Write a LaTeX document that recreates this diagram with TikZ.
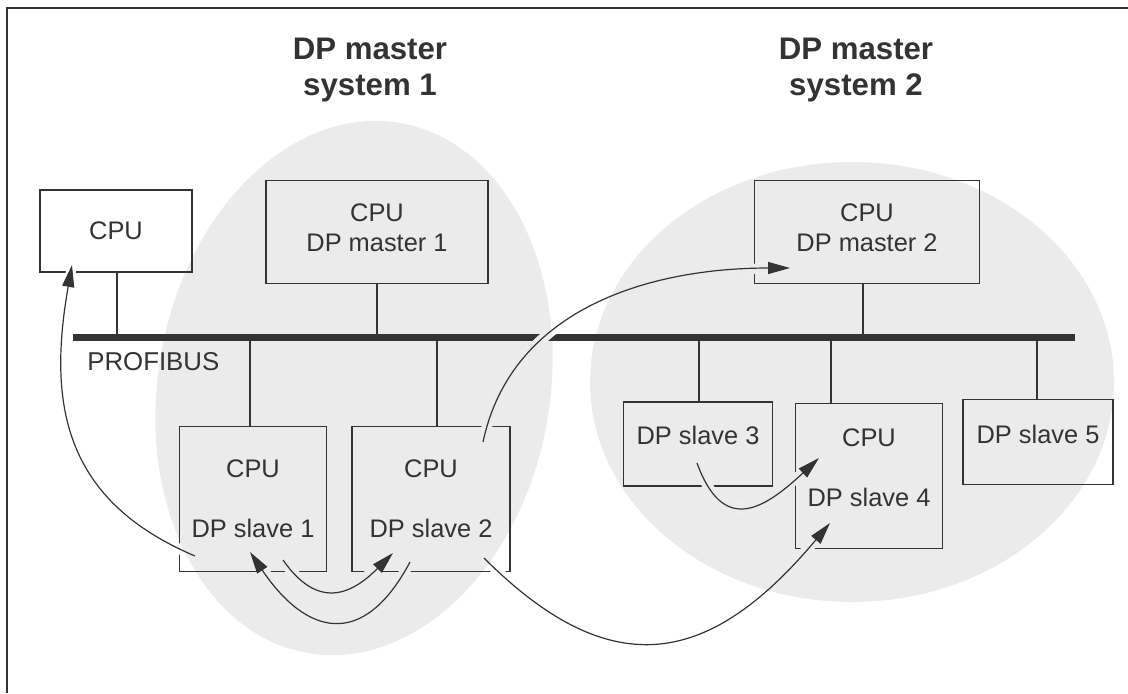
\documentclass[tikz,border=0pt]{standalone}
\usepackage{fontspec}
\setmainfont{Liberation Sans}
\usetikzlibrary{arrows.meta}

\definecolor{zone}{gray}{0.92}
\definecolor{ink}{gray}{0.2}

\tikzset{
  unitbox/.style={draw=ink, line width=0.7pt, inner sep=0pt, align=center,
    text=ink, font=\fontsize{12.7}{15}\selectfont},
  heading/.style={align=center, text=ink, font=\fontsize{15.6}{18}\bfseries},
  tap/.style={draw=ink, line width=0.6pt},
  flow/.style={-{Triangle[length=11pt,width=6pt]}, line width=0.6pt, draw=ink},
  halo/.style={line width=5pt},
}
% arrows: start/end/out/in/looseness
\newcommand{\linklist}{s1a/c0b/157/-100/1.15, s2a/m2b/78/180/1, s1c/s2d/-55/-135/1.4,
  s2c/s1d/-118/-56/1.6, s2e/s4b/-45/-130/1.35, s3a/s4a/-70/-137/1.6}

\begin{document}
\begin{tikzpicture}[x=0.5pt,y=0.5pt]
\useasboundingbox (0,0) rectangle (1128,-693);

% the two master systems
\fill[zone, shift={(354,-388)}, rotate=-10] (0,0) ellipse [x radius=196, y radius=269];
\fill[zone] (852,-382) ellipse [x radius=262, y radius=220];

% frame
\draw[ink, line width=0.8pt] (7,-693) -- (7,-8) -- (1128,-8);

\node[heading] (ttl1) at (370,-70) {DP master\\system 1};
\node[heading] (ttl2) at (856,-70) {DP master\\system 2};

\node[unitbox, minimum width=76pt, minimum height=41pt] (cpu0) at (116,-231) {CPU};
\node[unitbox, minimum width=111pt, minimum height=51.5pt, text depth=4pt] (mst1) at (377,-232) {CPU\\DP master 1};
\node[unitbox, minimum width=112.5pt, minimum height=51.5pt, text depth=4pt] (mst2) at (867,-232) {CPU\\DP master 2};

\node[fill=ink, inner sep=0pt, minimum width=501pt, minimum height=3.5pt] (bus) at (574,-337) {};
\node[text=ink, font=\fontsize{12.9}{15}\selectfont, anchor=west, inner sep=0pt] (pbus) at (87,-362) {PROFIBUS};

\node[unitbox, minimum width=73.5pt, minimum height=72.5pt] (sl1) at (253,-499) {CPU\\[15pt]DP slave 1};
\node[unitbox, minimum width=79pt, minimum height=72.5pt] (sl2) at (431,-499) {CPU\\[15pt]DP slave 2};
\node[unitbox, minimum width=74.5pt, minimum height=42pt, text depth=9pt] (sl3) at (698,-444) {DP slave 3};
\node[unitbox, minimum width=73.5pt, minimum height=72.5pt, text depth=8pt] (sl4) at (869,-476) {CPU\\[15pt]DP slave 4};
\node[unitbox, minimum width=75pt, minimum height=42.5pt, text depth=8pt] (sl5) at (1038,-442) {DP slave 5};

% drops to the bus
\foreach \x/\n in {117/cpu0, 377/mst1, 863/mst2}
  \draw[tap] (\x,0 |- bus.center) -- (\x,0 |- \n.south);
\foreach \x/\n in {250/sl1, 437/sl2, 699/sl3, 831/sl4, 1037/sl5}
  \draw[tap] (\x,0 |- bus.center) -- (\x,0 |- \n.north);

% arrow ends
\coordinate (s1a) at (195,-556);
\coordinate (c0b) at (72,-265);
\coordinate (s2a) at (483,-442);
\coordinate (m2b) at (790,-268);
\coordinate (s1c) at (283,-560);
\coordinate (s2d) at (393,-553);
\coordinate (s2c) at (410,-562);
\coordinate (s1d) at (250,-552);
\coordinate (s2e) at (484,-558);
\coordinate (s4b) at (830,-523);
\coordinate (s3a) at (697,-463);
\coordinate (s4a) at (819,-458);

% gaps where the arrows cross
\foreach \a/\b/\o/\i/\l in \linklist
  \draw[halo, white] (\a) to[out=\o,in=\i,looseness=\l] (\b);
\begin{scope}
  \clip[shift={(354,-388)}, rotate=-10] (0,0) ellipse [x radius=196, y radius=269];
  \foreach \a/\b/\o/\i/\l in \linklist
    \draw[halo, zone] (\a) to[out=\o,in=\i,looseness=\l] (\b);
\end{scope}
\begin{scope}
  \clip (852,-382) ellipse [x radius=262, y radius=220];
  \foreach \a/\b/\o/\i/\l in \linklist
    \draw[halo, zone] (\a) to[out=\o,in=\i,looseness=\l] (\b);
\end{scope}

\foreach \a/\b/\o/\i/\l in \linklist
  \draw[flow] (\a) to[out=\o,in=\i,looseness=\l] (\b);
\end{tikzpicture}
\end{document}
